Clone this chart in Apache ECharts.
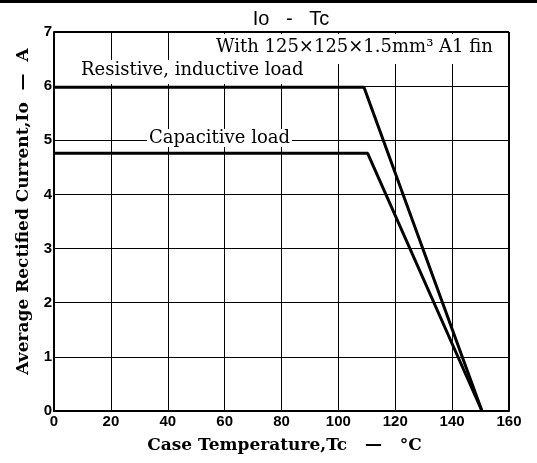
<!DOCTYPE html>
<html><head><meta charset="utf-8">
<script src="https://cdn.jsdelivr.net/npm/echarts@6/dist/echarts.min.js"></script>
<style>html,body{margin:0;padding:0;background:#fff}#c{width:537px;height:463px}</style>
</head><body><div id="c"></div>
<script>
const xTicks = [0, 20, 40, 60, 80, 100, 120, 140, 160];
const yTicks = [0, 1, 2, 3, 4, 5, 6, 7];
const tempResistive = [0, 109, 150.5];
const currResistive = [5.98, 5.98, 0];
const tempCapacitive = [0, 110.3, 150.5];
const currCapacitive = [4.76, 4.76, 0];
const chartTitle = 'Io   -   Tc';
const finNote = 'With 125×125×1.5mm³ A1 fin';
const resLabel = 'Resistive, inductive load';
const capLabel = 'Capacitive load';

const chart = echarts.init(document.getElementById('c'), null, {renderer: 'canvas'});
const serif = '"DejaVu Serif", "Liberation Serif", serif';
const sans = '"Liberation Sans", Arial, sans-serif';
chart.setOption({
  animation: false,
  backgroundColor: '#fff',
  title: {
    text: chartTitle, left: 286, top: 4, textAlign: 'center',
    textStyle: {fontFamily: sans, fontSize: 20, fontWeight: 'normal', color: '#000'}
  },
  grid: {left: 54, right: 28, top: 32, bottom: 52},
  xAxis: {
    type: 'value', min: 0, max: 160, interval: 20,
    name: 'Case Temperature,Tc   —   °C', nameLocation: 'middle', nameGap: 26,
    nameTextStyle: {fontFamily: serif, fontSize: 17, fontWeight: 'bold', color: '#000', padding: [0, 0, 0, 6]},
    axisLine: {lineStyle: {color: '#000', width: 2}},
    axisTick: {show: false},
    axisLabel: {fontFamily: sans, fontSize: 15, fontWeight: 'bold', color: '#000', margin: 3},
    splitLine: {show: true, lineStyle: {color: '#000', width: 1}}
  },
  yAxis: {
    type: 'value', min: 0, max: 7, interval: 1,
    name: 'Average Rectified Current,Io  —  A', nameLocation: 'middle', nameGap: 22,
    nameTextStyle: {fontFamily: serif, fontSize: 17, fontWeight: 'bold', color: '#000', padding: [0, 0, 0, 20]},
    axisLine: {lineStyle: {color: '#000', width: 2}},
    axisTick: {show: false},
    axisLabel: {fontFamily: sans, fontSize: 15, fontWeight: 'bold', color: '#000', margin: 2},
    splitLine: {show: true, lineStyle: {color: '#000', width: 1}}
  },
  series: [
    {type: 'line', data: tempResistive.map((t, i) => [t, currResistive[i]]), symbol: 'none',
     lineStyle: {color: '#000', width: 3}, z: 3},
    {type: 'line', data: tempCapacitive.map((t, i) => [t, currCapacitive[i]]), symbol: 'none',
     lineStyle: {color: '#000', width: 3}, z: 3},
    {type: 'line', data: [[160, 0], [160, 7]], symbol: 'none', lineStyle: {color: '#000', width: 2}, z: 2, silent: true},
    {type: 'line', data: [[0, 7], [160, 7]], symbol: 'none', lineStyle: {color: '#000', width: 2}, z: 2, silent: true}
  ],
  graphic: [
    {type: 'rect', shape: {x: 0, y: 0, width: 537, height: 3}, style: {fill: '#000'}},
    {type: 'rect', shape: {x: 200, y: 34, width: 307, height: 30}, style: {fill: '#fff'}, z: 5},
    {type: 'rect', shape: {x: 75, y: 60, width: 235, height: 24}, style: {fill: '#fff'}, z: 5},
    {type: 'text', x: 216, y: 38, z: 6, style: {text: finNote, font: '18px ' + serif, fill: '#000'}},
    {type: 'text', x: 81, y: 61, z: 6, style: {text: resLabel, font: '18px ' + serif, fill: '#000'}},
    {type: 'text', x: 147, y: 129, z: 6, style: {text: capLabel, font: '18px ' + serif, fill: '#000', backgroundColor: '#fff', padding: [0, 2]}}
  ]
});
</script></body></html>
